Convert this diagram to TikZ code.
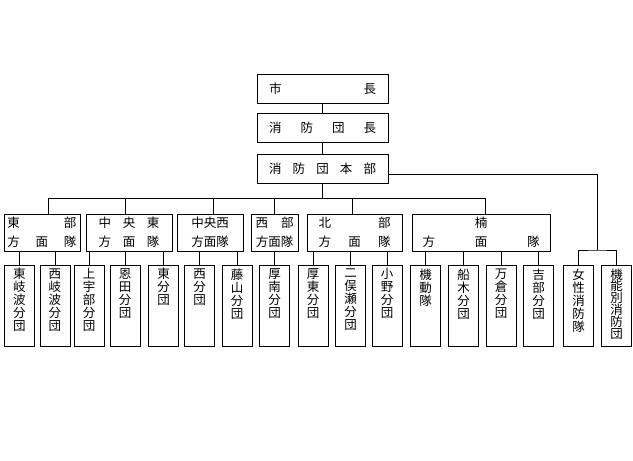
\documentclass[tikz,border=0pt]{standalone}
\usepackage{fontspec}
\newfontfamily\jpfont{Noto Sans CJK JP}
\usetikzlibrary{positioning,calc}
\tikzset{
  basic-style/.style = {
    rectangle, draw, line width=0.8pt,
    inner sep=0pt,
    font=\jpfont\fontsize{12.5}{13}\selectfont
  },
  head-style/.style = {
    basic-style,
    minimum width=131pt,
    minimum height=29pt
  },
  area-style/.style = {
    basic-style, align=center,
    font=\jpfont\fontsize{12.5}{19}\selectfont,
    minimum width=#1,
    minimum height=37pt
  },
  unit-style/.style = {
    basic-style,
    minimum width=30pt,
    minimum height=81pt
  },
  link-style/.style = {
    draw, line width=0.8pt
  }
}
\newcommand\spreadText[2]{\hbox to #1{#2}}
\newcommand\tateText[1]{\parbox[c][74pt][t]{14pt}{\centering #1}}
\def\createUnit name:#1 at:#2 text:#3;{
  \node [unit-style] (#1) at (#2,305.5) {\tateText{#3}};
}

\begin{document}
\begin{tikzpicture}[x=1pt,y=-1pt]
  \useasboundingbox (0,0) rectangle (633,461);

  % head office
  \node [head-style] (mayor) at (322.5,88.5) {\spreadText{107pt}{市\hfill 長}};
  \node [head-style] (chief) at (322.5,128) {\spreadText{107pt}{消\hfill 防\hfill 団\hfill 長}};
  \node [head-style] (hq) at (322.5,168.5) {\spreadText{107pt}{消\hfill 防\hfill 団\hfill 本\hfill 部}};

  % area units
  \node [area-style=76pt] (east) at (42,232.5)
    {\spreadText{69pt}{東\hfill 部}\\\spreadText{69pt}{方\hfill 面\hfill 隊}};
  \node [area-style=86pt] (ceast) at (129,232.5)
    {\spreadText{61pt}{中\hfill 央\hfill 東}\\\spreadText{61pt}{方\hfill 面\hfill 隊}};
  \node [area-style=66pt] (cwest) at (210,232.5) {中央西\\方面隊};
  \node [area-style=47pt] (west) at (274.5,232.5)
    {\spreadText{38pt}{西\hfill 部}\\方面隊};
  \node [area-style=95pt] (north) at (354.5,232.5)
    {\spreadText{72pt}{北\hfill 部}\\\spreadText{72pt}{方\hfill 面\hfill 隊}};
  \node [area-style=138pt] (kusu) at (481,232.5)
    {\spreadText{117pt}{\hfill 楠\hfill}\\\spreadText{117pt}{方\hfill 面\hfill 隊}};

  % branch units
  \createUnit name:higashikiwa at:19.5 text:{東\\岐\\波\\分\\団};
  \createUnit name:nishikiwa at:55 text:{西\\岐\\波\\分\\団};
  \createUnit name:kamiube at:89 text:{上\\宇\\部\\分\\団};
  \createUnit name:onda at:125 text:{恩\\田\\分\\団};
  \createUnit name:higashi at:163.5 text:{東\\分\\団};
  \createUnit name:nishi at:199.5 text:{西\\分\\団};
  \createUnit name:fujiyama at:237 text:{藤\\山\\分\\団};
  \createUnit name:kotounan at:274.5 text:{厚\\南\\分\\団};
  \createUnit name:kotou at:313 text:{厚\\東\\分\\団};
  \createUnit name:futamatase at:350.5 text:{二\\俣\\瀬\\分\\団};
  \createUnit name:ono at:387 text:{小\\野\\分\\団};
  \createUnit name:kidou at:425.5 text:{機\\動\\隊};
  \createUnit name:funaki at:463.5 text:{船\\木\\分\\団};
  \createUnit name:manakura at:501 text:{万\\倉\\分\\団};
  \createUnit name:kibe at:538.5 text:{吉\\部\\分\\団};
  \createUnit name:josei at:578.5 text:{女\\性\\消\\防\\隊};
  \createUnit name:kinou at:616.5 text:{\fontsize{12.5}{11.8}\selectfont 機\\能\\別\\消\\防\\団};

  % links
  \coordinate (bus) at (322.5,198);
  \coordinate (split) at (597.5,250);
  \path [link-style] (mayor) -- (chief) (chief) -- (hq) (hq.south) -- (bus);
  \path [link-style] ([xshift=6pt]east.north |- bus) -- ([xshift=4pt]kusu.north |- bus);
  \foreach \n/\s in {east/6, ceast/-4, cwest/3, west/0, north/-2.5, kusu/4}
    \path [link-style] ([xshift=\s pt]\n.north |- bus) -- ([xshift=\s pt]\n.north);
  \foreach \p/\c in {east/higashikiwa, east/nishikiwa, ceast/kamiube, ceast/onda,
      ceast/higashi, cwest/nishi, cwest/fujiyama, west/kotounan, north/kotou,
      north/futamatase, north/ono, kusu/kidou, kusu/funaki, kusu/manakura, kusu/kibe}
    \path [link-style] (\c.north |- \p.south) -- (\c.north);
  \path [link-style] ([yshift=-5.5pt]hq.east) -| (split);
  \path [link-style] (josei.north) |- (split) -| (kinou.north);
\end{tikzpicture}
\end{document}
